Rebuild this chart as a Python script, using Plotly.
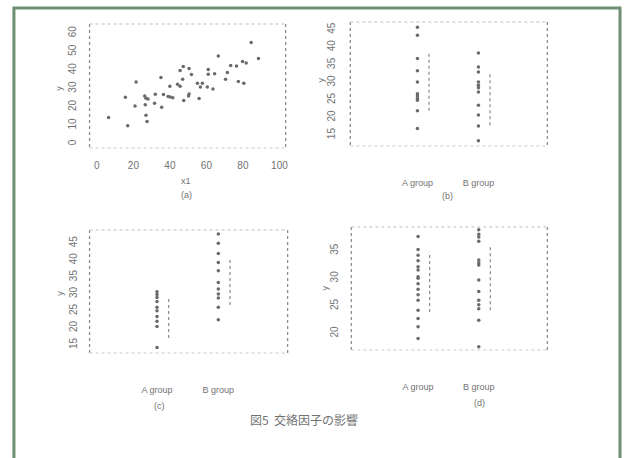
import plotly.graph_objects as go

W, H = 627, 458

# ---------------- data ----------------
a_x1 = [6.4, 16.9, 15.6, 20.9, 21.5, 26.2, 26.9, 28.0, 26.5, 26.9, 27.5, 32.0, 31.6, 35.1, 35.5,
        36.5, 39.0, 40.2, 41.6, 40.0, 44.2, 45.6, 45.6, 47.3, 47.0, 47.6, 50.5, 50.2, 50.5, 51.8,
        55.1, 57.8, 56.7, 56.0, 61.0, 61.0, 60.5, 63.6, 64.5, 66.5, 70.5, 71.5, 73.3, 76.5, 77.5,
        79.8, 81.8, 80.5, 84.5, 88.5]
a_y = [14.3, 9.8, 25.3, 20.6, 33.6, 26.0, 24.8, 24.4, 21.2, 15.6, 12.1, 26.9, 22.1, 36.0, 19.9,
       26.8, 25.7, 25.5, 25.1, 31.3, 32.4, 31.3, 39.8, 42.0, 35.1, 23.5, 40.9, 26.0, 27.1, 37.6,
       32.9, 32.9, 30.9, 24.6, 40.3, 37.8, 30.9, 29.8, 38.0, 47.7, 35.1, 38.7, 42.5, 42.3, 33.8,
       44.7, 43.8, 32.9, 55.0, 46.3]

groups = ["A group", "B group"]

b_A = [45.7, 43.4, 36.8, 33.3, 30.1, 26.8, 26.1, 25.4, 24.9, 21.9, 16.9]
b_B = [38.4, 34.4, 33.0, 30.1, 29.2, 28.5, 27.3, 23.5, 20.7, 17.6, 13.4]
b_rng = [[21.9, 38.2], [17.8, 32.5]]

c_A = [30.7, 29.9, 29.0, 27.8, 26.1, 25.1, 23.4, 22.0, 20.4, 14.2]
c_B = [47.7, 45.0, 42.0, 39.3, 36.9, 33.4, 31.5, 30.0, 28.8, 26.1, 22.4]
c_rng = [[17.0, 28.5], [26.8, 40.6]]

d_A = [37.6, 35.2, 34.2, 33.2, 32.1, 31.5, 30.3, 30.0, 29.0, 28.0, 27.0, 26.0, 24.2, 22.7, 21.2, 19.1]
d_B = [38.8, 38.0, 37.5, 36.7, 33.3, 32.8, 32.4, 29.7, 27.6, 26.0, 25.2, 24.5, 22.4, 17.6]
d_rng = [[23.9, 34.8], [24.2, 35.9]]

a_xticks = [0, 20, 40, 60, 80, 100]
a_yticks = [0, 10, 20, 30, 40, 50, 60]
b_yticks = [15, 20, 25, 30, 35, 40, 45]
c_yticks = [15, 20, 25, 30, 35, 40, 45]
d_yticks = [20, 25, 30, 35]

panel_caps = ["(a)", "(b)", "(c)", "(d)"]
fig_caption = "図5  交絡因子の影響"

# ---------------- layout helpers ----------------
def px_x(p):
    return p / W

def px_y(p):
    return 1 - p / H

boxes = {  # left, top, right, bottom in pixels
    1: (90, 24, 287, 148),
    2: (352, 22, 550, 146),
    3: (90, 230, 289, 353),
    4: (353, 227, 550, 350),
}

PT = "#6a6a6a"
TXT = "#727272"
FONT = "Liberation Sans"

fig = go.Figure()

def sfx(i):
    return "" if i == 1 else str(i)

# panel a scatter
fig.add_trace(go.Scatter(x=a_x1, y=a_y, mode="markers",
                         marker=dict(size=3.5, color=PT), xaxis="x", yaxis="y", showlegend=False))

off = 0.19
for i, (A, B, rng) in zip([2, 3, 4], [(b_A, b_B, b_rng), (c_A, c_B, c_rng), (d_A, d_B, d_rng)]):
    xa, ya = "x" + str(i), "y" + str(i)
    fig.add_trace(go.Scatter(x=[1] * len(A), y=A, mode="markers",
                             marker=dict(size=3.5, color=PT), xaxis=xa, yaxis=ya, showlegend=False))
    fig.add_trace(go.Scatter(x=[2] * len(B), y=B, mode="markers",
                             marker=dict(size=3.5, color=PT), xaxis=xa, yaxis=ya, showlegend=False))
    for k in range(2):
        fig.add_trace(go.Scatter(x=[k + 1 + off] * 2, y=rng[k], mode="lines",
                                 line=dict(color="#8a8a8a", width=1.2, dash="dot"),
                                 xaxis=xa, yaxis=ya, showlegend=False))

layout = dict(width=W, height=H, margin=dict(l=0, r=0, t=0, b=0),
              paper_bgcolor="white", plot_bgcolor="white",
              font=dict(family=FONT, size=9, color=TXT))

yranges = {1: [-2.2, 65], 2: [11.9, 47.2], 3: [12.6, 48.9], 4: [17.0, 39.3]}
yticks = {1: a_yticks, 2: b_yticks, 3: c_yticks, 4: d_yticks}
ylen = {1: 9, 2: 10, 3: 8, 4: 8}

shapes = []
annotations = []
for i in range(1, 5):
    l, t, r, b = boxes[i]
    xd = [px_x(l), px_x(r)]
    yd = [px_y(b), px_y(t)]
    xkey = "xaxis" + sfx(i)
    ykey = "yaxis" + sfx(i)
    if i == 1:
        layout[xkey] = dict(domain=xd, range=[-4.0, 103.4], tickvals=a_xticks,
                            ticks="outside", ticklen=8, tickcolor="rgba(0,0,0,0)",
                            showgrid=False, zeroline=False, showline=False,
                            anchor="y", tickfont=dict(size=10, color=TXT))
    else:
        layout[xkey] = dict(domain=xd, range=[-0.1, 3.13], tickvals=[1, 2], ticktext=groups,
                            ticks="outside", ticklen=28, tickcolor="rgba(0,0,0,0)",
                            showgrid=False, zeroline=False, showline=False,
                            anchor="y" + str(i), tickfont=dict(size=9, color=TXT))
    layout[ykey] = dict(domain=yd, range=yranges[i], tickvals=yticks[i], tickangle=-90,
                        ticks="outside", ticklen=ylen[i], tickcolor="rgba(0,0,0,0)",
                        showgrid=False, zeroline=False, showline=False,
                        anchor="x" + sfx(i), tickfont=dict(size=10, color=TXT))
    # dotted frame
    for (x0, y0, x1, y1, c) in [(l, t, l, b, "#8c8c8c"), (r, t, r, b, "#8c8c8c"),
                                (l, t, r, t, "#d4d4d4"), (l, b, r, b, "#dcdcdc")]:
        shapes.append(dict(type="line", xref="paper", yref="paper",
                           x0=px_x(x0), x1=px_x(x1), y0=px_y(y0), y1=px_y(y1),
                           line=dict(color=c, width=1.3, dash="dot")))

# outer green frame
shapes.append(dict(type="rect", xref="paper", yref="paper",
                   x0=px_x(14), x1=px_x(623), y0=px_y(470), y1=px_y(8),
                   line=dict(color="#6f8f72", width=3)))

def ann(text, x, y, size=9, angle=0, family=FONT):
    annotations.append(dict(text=text, x=px_x(x), y=px_y(y), xref="paper", yref="paper",
                            showarrow=False, textangle=angle,
                            font=dict(size=size, color=TXT, family=family),
                            xanchor="center", yanchor="middle"))

# axis labels
ann("x1", 187, 181)
ann("y", 59, 88, angle=-90)
ann("y", 323, 80, angle=-90)
ann("y", 60, 293, angle=-90)
ann("y", 327, 288, angle=-90)
# panel captions
ann(panel_caps[0], 187, 195)
ann(panel_caps[1], 450, 196)
ann(panel_caps[2], 160, 406)
ann(panel_caps[3], 482, 403)
# figure caption
ann(fig_caption, 305, 419, size=12, family="Noto Sans CJK JP")

layout["shapes"] = shapes
layout["annotations"] = annotations
fig.update_layout(**layout)
fig.write_html("out.html", config={"displayModeBar": False},
               post_script="document.body.style.margin='0';document.body.style.padding='0';")
